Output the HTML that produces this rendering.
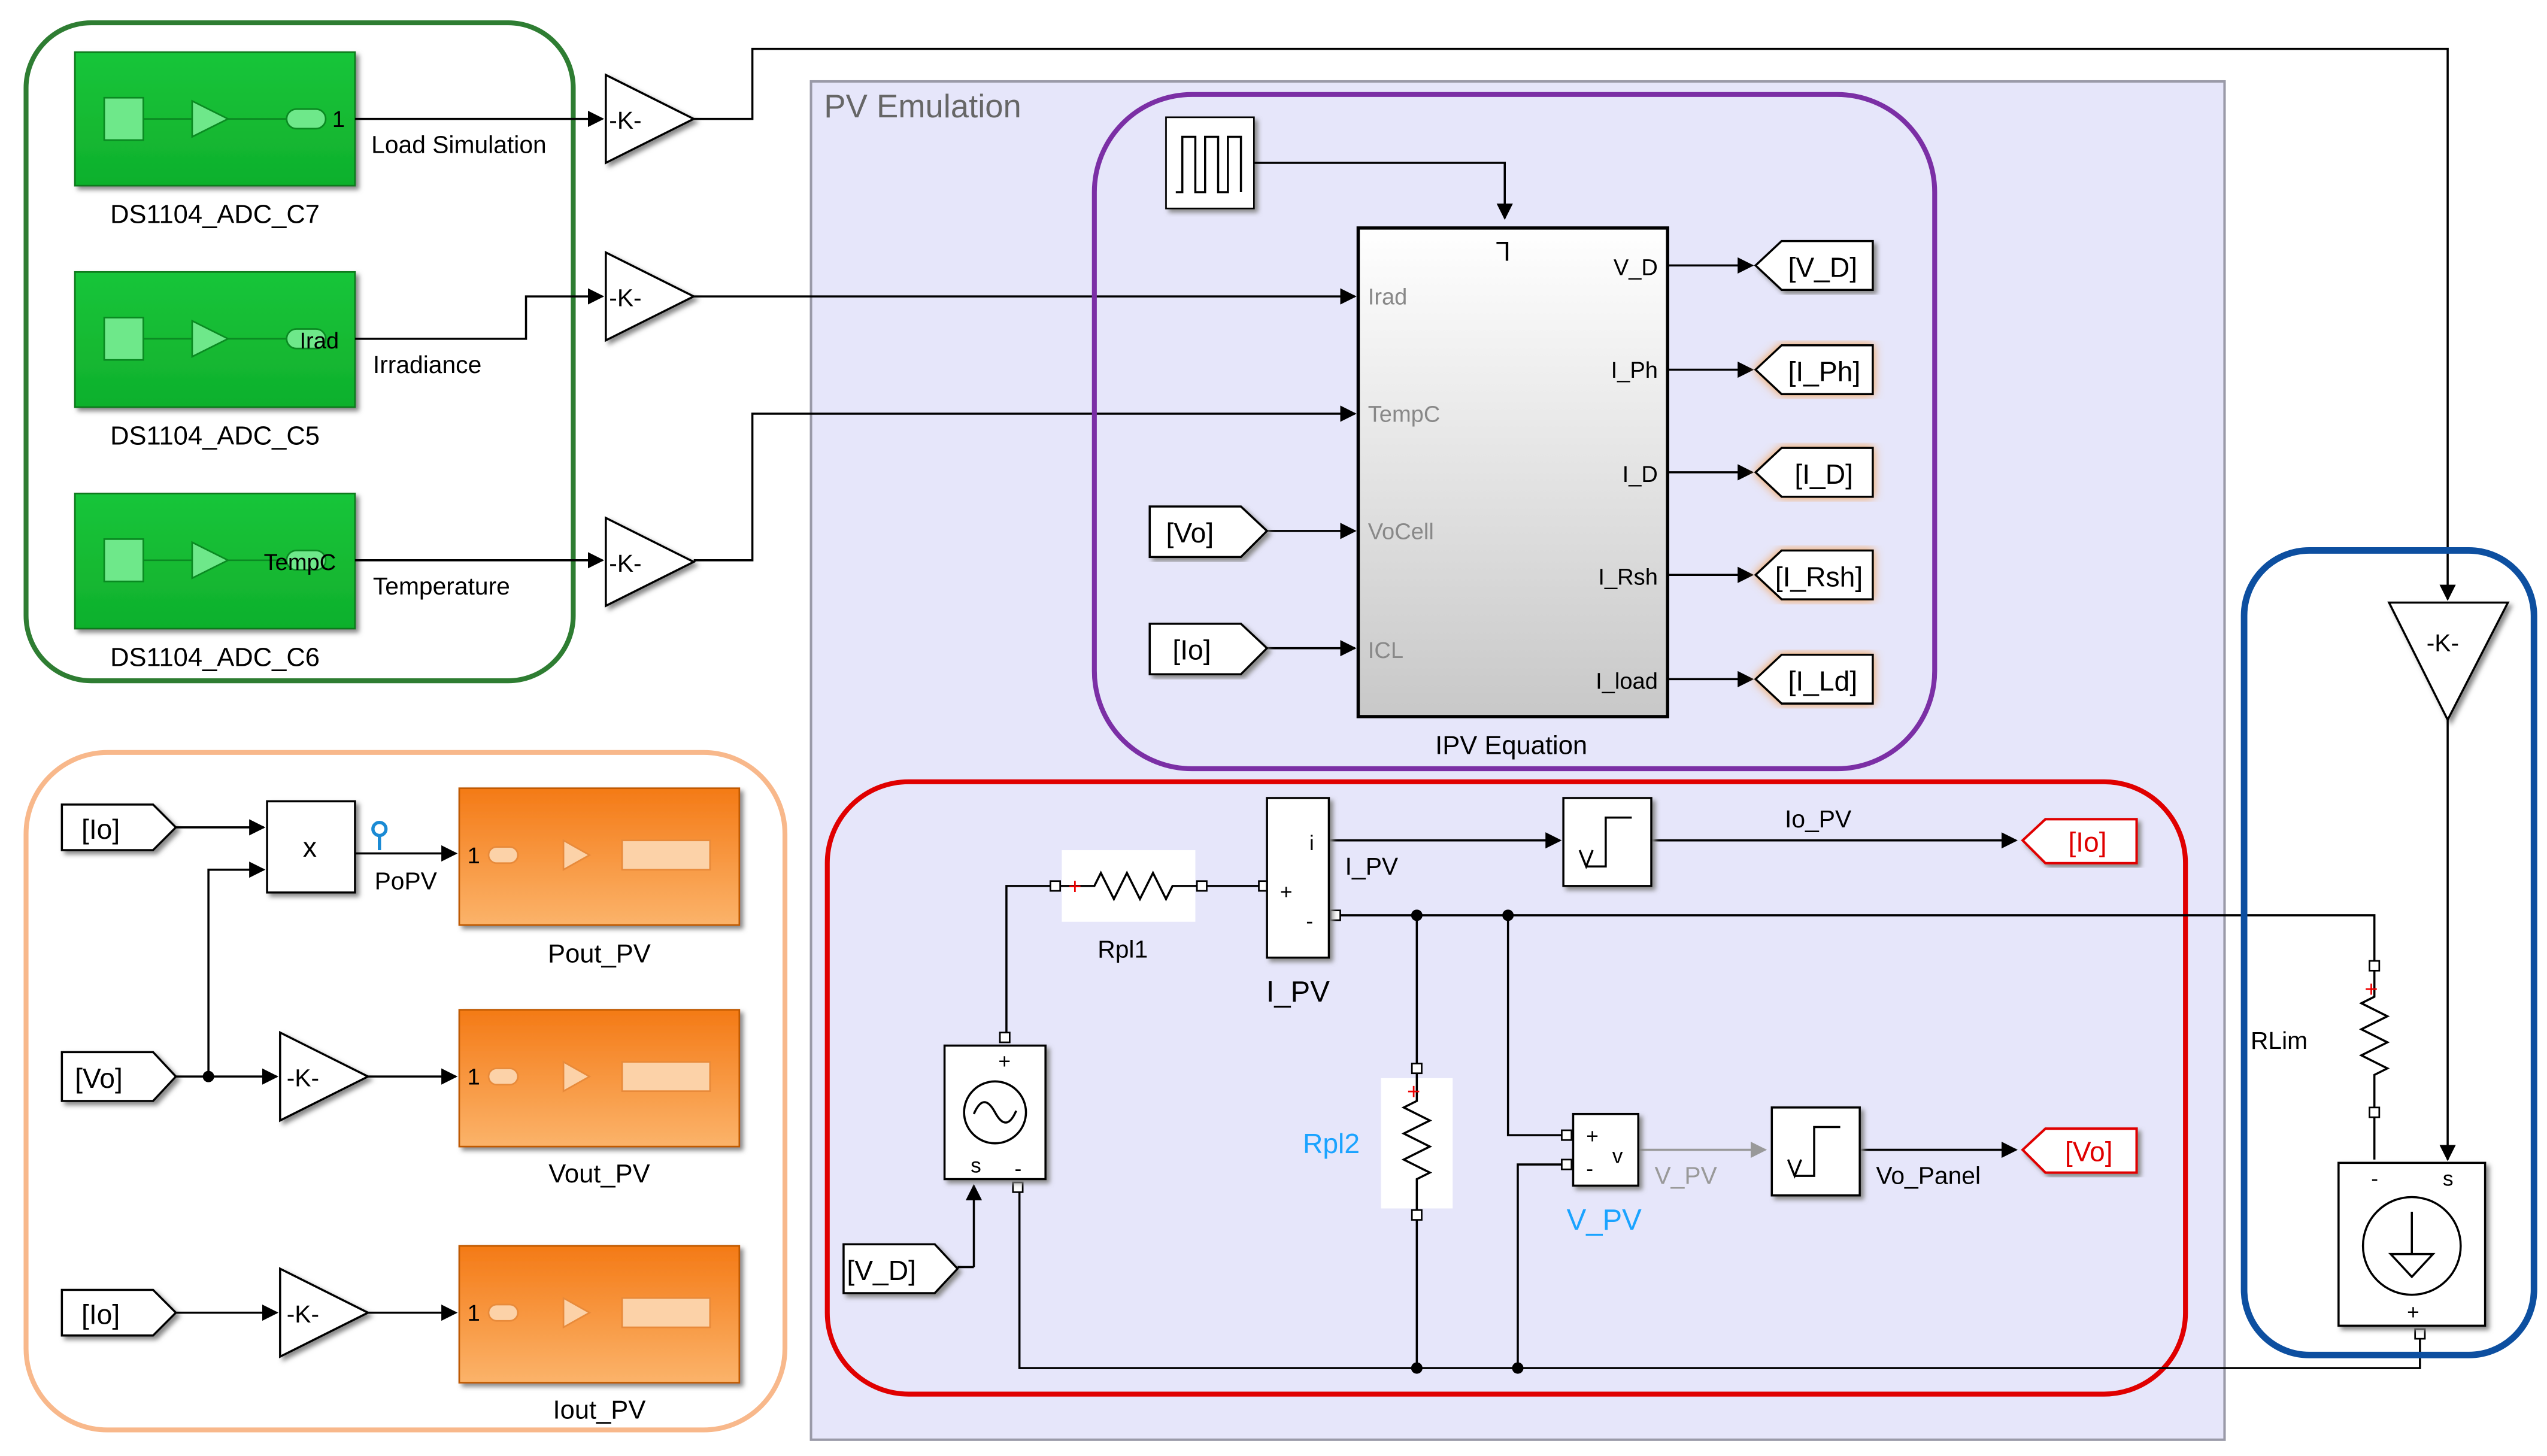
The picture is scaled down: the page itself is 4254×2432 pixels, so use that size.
<!DOCTYPE html>
<html><head><meta charset="utf-8"><style>
html,body{margin:0;padding:0;background:#fff;}
svg{display:block;font-family:"Liberation Sans",sans-serif;}
</style></head><body>
<svg width="4254" height="2432" viewBox="0 0 1564 894" preserveAspectRatio="none" xmlns="http://www.w3.org/2000/svg">
<defs>
<linearGradient id="gg" x1="0" y1="0" x2="0" y2="1"><stop offset="0" stop-color="#19c53a"/><stop offset="1" stop-color="#0fb02c"/></linearGradient>
<linearGradient id="og" x1="0" y1="0" x2="0" y2="1"><stop offset="0" stop-color="#f47a16"/><stop offset="1" stop-color="#fbb36a"/></linearGradient>
<linearGradient id="wg" x1="0" y1="0" x2="0" y2="1"><stop offset="0" stop-color="#ffffff"/><stop offset="1" stop-color="#c8c8c8"/></linearGradient>
<marker id="a" markerWidth="10" markerHeight="10" refX="9" refY="5" orient="auto" markerUnits="userSpaceOnUse"><path d="M0,0 L10,5 L0,10 z" fill="#000"/></marker>
<marker id="ag" markerWidth="10" markerHeight="10" refX="9" refY="5" orient="auto" markerUnits="userSpaceOnUse"><path d="M0,0 L10,5 L0,10 z" fill="#999"/></marker>
<filter id="glow"><feDropShadow dx="0" dy="0" stdDeviation="3" flood-color="#f5a050"/></filter>
<filter id="sh"><feDropShadow dx="2" dy="2" stdDeviation="1.5" flood-color="#888"/></filter>
</defs>

<!-- PV emulation box -->
<rect x="498" y="50" width="868" height="834" fill="#e6e6fa" stroke="#9a9aa8" stroke-width="1.5"/>
<text x="506" y="72" font-size="20" fill="#666">PV Emulation</text>

<!-- green group -->
<rect x="16" y="14" width="336" height="404" rx="40" fill="none" stroke="#2e7d32" stroke-width="3"/>
<g filter="url(#sh)">
<rect x="46" y="32" width="172" height="82" fill="url(#gg)" stroke="#0a7a1e"/>
<rect x="46" y="167" width="172" height="83" fill="url(#gg)" stroke="#0a7a1e"/>
<rect x="46" y="303" width="172" height="83" fill="url(#gg)" stroke="#0a7a1e"/>
</g>
<g fill="#6ee88a" stroke="#0a8a22" stroke-width="1">
<rect x="64" y="60" width="24" height="26"/><path d="M118,62 L140,73 L118,84z"/><rect x="176" y="67" width="24" height="12" rx="6"/>
<rect x="64" y="195" width="24" height="26"/><path d="M118,197 L140,208 L118,219z"/><rect x="176" y="202" width="24" height="12" rx="6"/>
<rect x="64" y="331" width="24" height="26"/><path d="M118,333 L140,344 L118,355z"/><rect x="176" y="338" width="24" height="12" rx="6"/>
</g>
<g stroke="#0a8a22"><line x1="88" y1="73" x2="118" y2="73"/><line x1="140" y1="73" x2="176" y2="73"/>
<line x1="88" y1="208" x2="118" y2="208"/><line x1="140" y1="208" x2="176" y2="208"/>
<line x1="88" y1="344" x2="118" y2="344"/><line x1="140" y1="344" x2="176" y2="344"/></g>
<text x="204" y="78" font-size="14">1</text>
<text x="184" y="214" font-size="14">Irad</text>
<text x="162" y="350" font-size="14">TempC</text>
<g font-size="16" text-anchor="middle"><text x="132" y="137">DS1104_ADC_C7</text><text x="132" y="273">DS1104_ADC_C5</text><text x="132" y="409">DS1104_ADC_C6</text></g>
<g font-size="15"><text x="228" y="94">Load Simulation</text><text x="229" y="229">Irradiance</text><text x="229" y="365">Temperature</text></g>

<!-- gains -->
<g fill="#fff" stroke="#000" stroke-width="1.3" filter="url(#sh)">
<path d="M372,46 L426,73 L372,100z"/><path d="M372,155 L426,182 L372,209z"/><path d="M372,318 L426,345 L372,372z"/>
<path d="M1467,370 L1540,370 L1503,442z"/>
<path d="M172,634 L226,661 L172,688z"/><path d="M172,779 L226,806 L172,833z"/>
</g>
<g font-size="15"><text x="374" y="79">-K-</text><text x="374" y="188">-K-</text><text x="374" y="351">-K-</text><text x="1490" y="400">-K-</text><text x="176" y="667">-K-</text><text x="176" y="812">-K-</text></g>

<g fill="none" stroke="#000" stroke-width="1.3">
<line x1="218" y1="73" x2="370" y2="73" marker-end="url(#a)"/>
<polyline points="426,73 462,73 462,30 1503,30 1503,368" marker-end="url(#a)"/>
<polyline points="218,208 323,208 323,182 370,182" marker-end="url(#a)"/>
<line x1="426" y1="182" x2="832" y2="182" marker-end="url(#a)"/>
<line x1="218" y1="344" x2="370" y2="344" marker-end="url(#a)"/>
<polyline points="426,344 462,344 462,254 832,254" marker-end="url(#a)"/>
</g>

<!-- purple group -->
<rect x="672" y="58" width="516" height="414" rx="60" fill="none" stroke="#7b2fa5" stroke-width="3"/>
<rect x="716" y="72" width="54" height="56" fill="#fff" stroke="#000" filter="url(#sh)"/>
<path d="M722,118 L726,118 L726,84 L734,84 L734,118 L740,118 L740,84 L748,84 L748,118 L754,118 L754,84 L762,84 L762,118" fill="none" stroke="#000" stroke-width="1.3"/>
<polyline points="770,100 924,100 924,134" fill="none" stroke="#000" stroke-width="1.3" marker-end="url(#a)"/>
<rect x="834" y="140" width="190" height="300" fill="url(#wg)" stroke="#000" stroke-width="2"/>
<text x="918" y="160" font-size="16">ᒣ</text>
<g font-size="14" fill="#888"><text x="840" y="187">Irad</text><text x="840" y="259">TempC</text><text x="840" y="331">VoCell</text><text x="840" y="404">ICL</text></g>
<g font-size="14" text-anchor="end"><text x="1018" y="169">V_D</text><text x="1018" y="232">I_Ph</text><text x="1018" y="296">I_D</text><text x="1018" y="359">I_Rsh</text><text x="1018" y="423">I_load</text></g>
<text x="928" y="463" font-size="16" text-anchor="middle">IPV Equation</text>
<g fill="none" stroke="#000" stroke-width="1.3">
<line x1="1024" y1="163" x2="1076" y2="163" marker-end="url(#a)"/>
<line x1="1024" y1="227" x2="1076" y2="227" marker-end="url(#a)"/>
<line x1="1024" y1="290" x2="1076" y2="290" marker-end="url(#a)"/>
<line x1="1024" y1="353" x2="1076" y2="353" marker-end="url(#a)"/>
<line x1="1024" y1="417" x2="1076" y2="417" marker-end="url(#a)"/>
<line x1="778" y1="326" x2="832" y2="326" marker-end="url(#a)"/>
<line x1="778" y1="398" x2="832" y2="398" marker-end="url(#a)"/>
</g>
<g fill="#fff" stroke="#000" stroke-width="1.3">
<path d="M1078,163 L1094,148 L1150,148 L1150,178 L1094,178z" filter="url(#sh)"/>
<path d="M1078,227 L1094,212 L1150,212 L1150,242 L1094,242z" filter="url(#glow)"/>
<path d="M1078,290 L1094,275 L1150,275 L1150,305 L1094,305z" filter="url(#glow)"/>
<path d="M1078,353 L1094,338 L1150,338 L1150,368 L1094,368z" filter="url(#glow)"/>
<path d="M1078,417 L1094,402 L1150,402 L1150,432 L1094,432z" filter="url(#glow)"/>
<path d="M706,311 L762,311 L778,326 L762,342 L706,342z" filter="url(#sh)"/>
<path d="M706,383 L762,383 L778,398 L762,414 L706,414z" filter="url(#sh)"/>
</g>
<g font-size="17"><text x="1098" y="170">[V_D]</text><text x="1098" y="234">[I_Ph]</text><text x="1102" y="297">[I_D]</text><text x="1090" y="360">[I_Rsh]</text><text x="1098" y="424">[I_Ld]</text>
<text x="716" y="333">[Vo]</text><text x="720" y="405">[Io]</text></g>

<!-- orange group -->
<rect x="16" y="462" width="466" height="416" rx="50" fill="none" stroke="#f8b88b" stroke-width="3"/>
<g fill="#fff" stroke="#000" stroke-width="1.3" filter="url(#sh)">
<path d="M38,494 L94,494 L108,508 L94,522 L38,522z"/>
<path d="M38,646 L94,646 L108,661 L94,676 L38,676z"/>
<path d="M38,792 L94,792 L108,806 L94,820 L38,820z"/>
<path d="M518,764 L574,764 L588,779 L574,794 L518,794z"/>
<rect x="164" y="492" width="54" height="56"/>
</g>
<g font-size="17"><text x="50" y="515">[Io]</text><text x="46" y="668">[Vo]</text><text x="50" y="813">[Io]</text><text x="520" y="786">[V_D]</text><text x="186" y="526">x</text></g>
<g fill="none" stroke="#000" stroke-width="1.3">
<line x1="108" y1="508" x2="162" y2="508" marker-end="url(#a)"/>
<line x1="108" y1="661" x2="170" y2="661" marker-end="url(#a)"/>
<polyline points="128,661 128,534 162,534" marker-end="url(#a)"/>
<line x1="108" y1="806" x2="170" y2="806" marker-end="url(#a)"/>
<line x1="218" y1="524" x2="280" y2="524" marker-end="url(#a)"/>
<line x1="226" y1="661" x2="280" y2="661" marker-end="url(#a)"/>
<line x1="226" y1="806" x2="280" y2="806" marker-end="url(#a)"/>
</g>
<circle cx="128" cy="661" r="3.5"/>
<text x="230" y="546" font-size="15">PoPV</text>
<circle cx="233" cy="509" r="4" fill="none" stroke="#1a8ad4" stroke-width="2"/><line x1="233" y1="513" x2="233" y2="522" stroke="#1a8ad4" stroke-width="2"/>
<g filter="url(#sh)" stroke="#c05a00">
<rect x="282" y="484" width="172" height="84" fill="url(#og)"/>
<rect x="282" y="620" width="172" height="84" fill="url(#og)"/>
<rect x="282" y="765" width="172" height="84" fill="url(#og)"/>
</g>
<g fill="#fcd2a8" stroke="#e88a3a">
<rect x="300" y="520" width="18" height="10" rx="5"/><path d="M346,516 L362,525 L346,534z"/><rect x="382" y="516" width="54" height="18"/>
<rect x="300" y="656" width="18" height="10" rx="5"/><path d="M346,652 L362,661 L346,670z"/><rect x="382" y="652" width="54" height="18"/>
<rect x="300" y="801" width="18" height="10" rx="5"/><path d="M346,797 L362,806 L346,815z"/><rect x="382" y="797" width="54" height="18"/>
</g>
<g font-size="14"><text x="287" y="530">1</text><text x="287" y="666">1</text><text x="287" y="811">1</text></g>
<g font-size="16" text-anchor="middle"><text x="368" y="591">Pout_PV</text><text x="368" y="726">Vout_PV</text><text x="368" y="871">Iout_PV</text></g>

<!-- red group -->
<rect x="508" y="480" width="834" height="376" rx="50" fill="none" stroke="#e00000" stroke-width="3"/>
<rect x="652" y="522" width="82" height="44" fill="#fff"/>
<rect x="848" y="662" width="44" height="80" fill="#fff"/>
<g fill="none" stroke="#000" stroke-width="1.3">
<polyline points="648,544 672,544 676,536 684,552 692,536 700,552 708,536 716,552 720,544 738,544"/>
<line x1="738" y1="544" x2="776" y2="544"/>
<polyline points="648,544 618,544 618,638"/>
<polyline points="870,562 870,656"/>
<polyline points="870,656 870,676 862,680 878,688 862,696 878,704 862,712 878,720 870,724 870,746"/>
<polyline points="870,748 870,840"/>
<polyline points="816,516 958,516" marker-end="url(#a)"/>
<polyline points="1014,516 1238,516" marker-end="url(#a)"/>
<polyline points="820,562 1458,562 1458,592"/>
<polyline points="926,562 926,697 962,697"/>
<polyline points="962,715 932,715 932,840"/>
<polyline points="1142,706 1238,706" marker-end="url(#a)"/>
<polyline points="626,730 626,840 1486,840 1486,820"/>
<polyline points="598,778 598,728" marker-end="url(#a)"/>
<line x1="588" y1="778" x2="598" y2="778"/>
<polyline points="1458,592 1458,612 1450,616 1466,624 1450,632 1466,640 1450,648 1466,656 1458,660 1458,712"/>
<polyline points="1503,442 1503,712" marker-end="url(#a)"/>
</g>
<line x1="1006" y1="706" x2="1084" y2="706" stroke="#999" stroke-width="1.3" marker-end="url(#ag)"/>
<g fill="#fff" stroke="#000" stroke-width="1">
<rect x="645" y="541" width="6" height="6"/><rect x="735" y="541" width="6" height="6"/><rect x="773" y="541" width="6" height="6"/>
<rect x="817" y="559" width="6" height="6"/><rect x="867" y="653" width="6" height="6"/><rect x="867" y="743" width="6" height="6"/>
<rect x="614" y="634" width="6" height="6"/><rect x="622" y="726" width="6" height="6"/>
<rect x="959" y="694" width="6" height="6"/><rect x="959" y="712" width="6" height="6"/>
<rect x="1455" y="590" width="6" height="6"/><rect x="1455" y="680" width="6" height="6"/><rect x="1483" y="816" width="6" height="6"/>
</g>
<g fill="#000"><circle cx="870" cy="562" r="3.5"/><circle cx="926" cy="562" r="3.5"/><circle cx="870" cy="840" r="3.5"/><circle cx="932" cy="840" r="3.5"/></g>
<g fill="#fff" stroke="#000" stroke-width="1.3" filter="url(#sh)">
<rect x="778" y="490" width="38" height="98"/>
<rect x="960" y="490" width="54" height="54"/>
<rect x="580" y="642" width="62" height="82"/>
<rect x="966" y="684" width="40" height="44"/>
<rect x="1088" y="680" width="54" height="54"/>
<rect x="1436" y="714" width="90" height="100"/>
</g>
<g fill="none" stroke="#000" stroke-width="1.3">
<polyline points="974,532 986,532 986,502 1002,502"/><path d="M970,522 L974,532 L978,522"/>
<polyline points="1102,722 1114,722 1114,692 1130,692"/><path d="M1098,712 L1102,722 L1106,712"/>
<circle cx="611" cy="683" r="19"/><path d="M598,684 Q604,670 611,683 T624,682"/>
<circle cx="1481" cy="765" r="30"/><line x1="1481" y1="744" x2="1481" y2="770"/><path d="M1468,770 L1494,770 L1481,784z"/>
</g>
<g font-size="13"><text x="804" y="522">i</text><text x="786" y="552">+</text><text x="802" y="570">-</text><text x="613" y="656">+</text><text x="623" y="722">-</text><text x="596" y="720">s</text>
<text x="974" y="702">+</text><text x="974" y="722">-</text><text x="990" y="714">v</text><text x="1456" y="728">-</text><text x="1500" y="728">s</text><text x="1478" y="810">+</text></g>
<path d="M1242,516 L1256,503 L1312,503 L1312,530 L1256,530z" fill="#fff" stroke="#e00000" stroke-width="1.5" filter="url(#sh)"/>
<path d="M1242,706 L1256,693 L1312,693 L1312,720 L1256,720z" fill="#fff" stroke="#e00000" stroke-width="1.5" filter="url(#sh)"/>
<g font-size="17" fill="#e00000"><text x="1270" y="523">[Io]</text><text x="1268" y="713">[Vo]</text></g>
<g font-size="15"><text x="826" y="537">I_PV</text><text x="1096" y="508">Io_PV</text><text x="1152" y="727">Vo_Panel</text><text x="674" y="588">Rpl1</text><text x="1382" y="644">RLim</text></g>
<text x="797" y="615" font-size="18" text-anchor="middle">I_PV</text>
<text x="1016" y="727" font-size="15" fill="#999">V_PV</text>
<text x="800" y="708" font-size="17" fill="#1aa3ff">Rpl2</text>
<text x="962" y="755" font-size="18" fill="#1aa3ff">V_PV</text>
<text x="656" y="549" font-size="14" fill="#e00">+</text>
<text x="864" y="675" font-size="14" fill="#e00">+</text>
<text x="1452" y="612" font-size="14" fill="#e00">+</text>

<!-- blue group -->
<rect x="1378" y="338" width="178" height="494" rx="40" fill="none" stroke="#0d4fa0" stroke-width="4"/>
</svg>
</body></html>
